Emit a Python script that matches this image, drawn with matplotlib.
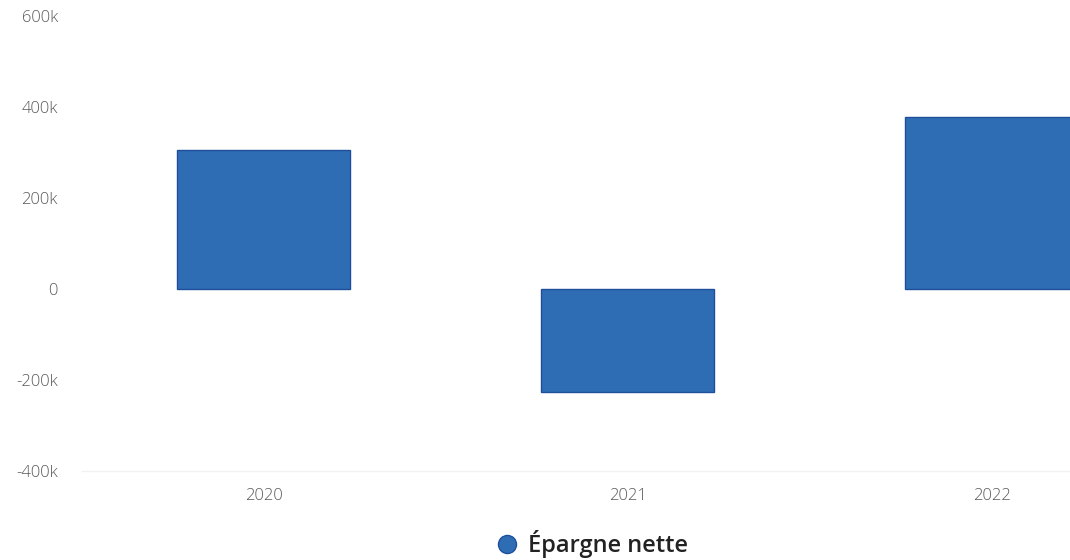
import matplotlib
matplotlib.use("Agg")
import matplotlib.pyplot as plt
from matplotlib.lines import Line2D

categories = ["2020", "2021", "2022"]
values = [305000, -226000, 378000]
series_name = "Épargne nette"
y_ticks = [-400000, -200000, 0, 200000, 400000, 600000]
y_tick_labels = ["-400k", "-200k", "0", "200k", "400k", "600k"]

plt.rcParams["font.family"] = ["Open Sans", "DejaVu Sans"]

W, H = 1070, 560
fig = plt.figure(figsize=(W / 100, H / 100), dpi=100)
left_px, right_px = 81.5, 81.5 + 1092
top_px, bottom_px = 16, 471
ax = fig.add_axes([left_px / W, (H - bottom_px) / H,
                   (right_px - left_px) / W, (bottom_px - top_px) / H])

bar_color = "#2e6db4"
edge_color = "#1f4f9c"
x = list(range(len(categories)))
ax.bar(x, values, width=0.475, color=bar_color, edgecolor=edge_color,
       linewidth=1.0, zorder=3)

ax.set_xlim(-0.5, len(categories) - 0.5)
ax.set_ylim(-400000, 600000)
ax.set_yticks(y_ticks)
ax.set_yticklabels(y_tick_labels)
ax.set_xticks(x)
ax.set_xticklabels(categories)

for s in ["top", "right", "left"]:
    ax.spines[s].set_visible(False)
ax.spines["bottom"].set_color("#f2f2f2")
ax.spines["bottom"].set_linewidth(1.0)
ax.tick_params(axis="both", length=0, colors="#555555", labelsize=12)
ax.tick_params(axis="y", pad=17)
ax.tick_params(axis="x", pad=12)
for lab in ax.get_xticklabels() + ax.get_yticklabels():
    lab.set_color("#5a5a5a")
    lab.set_fontweight("light")

handle = Line2D([0], [0], marker="o", linestyle="none", markersize=13,
                markerfacecolor=bar_color, markeredgecolor=edge_color)
leg = fig.legend([handle], [series_name], loc="center",
                 bbox_to_anchor=(592.5 / W, (H - 544) / H),
                 frameon=False, handlelength=0.8, handletextpad=0.5,
                 prop={"family": ["Open Sans", "DejaVu Sans"], "weight": "semibold", "size": 17})
for t in leg.get_texts():
    t.set_color("#222222")

fig.savefig("out.png", dpi=100)
